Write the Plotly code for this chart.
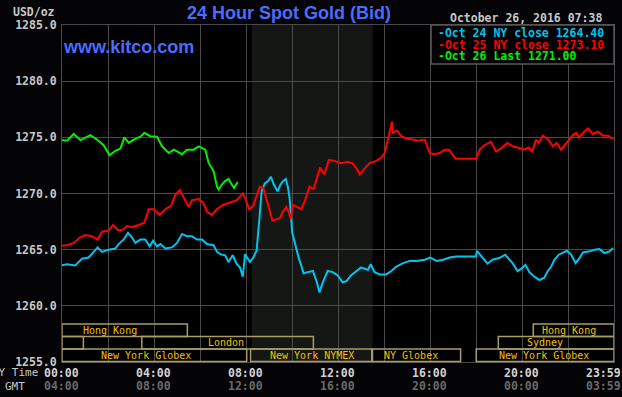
import plotly.graph_objects as go

# ---------------- data ----------------
oct24_t = [0.0, 0.22, 0.58, 0.87, 1.16, 1.38, 1.55, 1.74, 2.03, 2.32, 2.46, 2.68, 2.87, 3.04, 3.19, 3.41,
           3.62, 3.81, 3.96, 4.13, 4.28, 4.49, 4.78, 5.0, 5.22, 5.43, 5.65, 5.87, 6.09, 6.3, 6.59, 6.74,
           6.88, 7.09, 7.24, 7.42, 7.6, 7.74, 7.86, 7.96, 8.06, 8.17, 8.32, 8.46, 8.58, 8.68, 8.82, 8.96,
           9.08, 9.21, 9.37, 9.5, 9.61, 9.73, 9.83, 9.9, 10.01, 10.16, 10.3, 10.4, 10.5, 10.69, 10.91,
           11.08, 11.19, 11.34, 11.55, 11.77, 11.99, 12.2, 12.37, 12.56, 12.78, 12.99, 13.18, 13.3, 13.42,
           13.59, 13.81, 14.1, 14.32, 14.54, 14.83, 15.12, 15.41, 15.77, 16.01, 16.28, 16.57, 16.86, 17.14,
           18.0, 18.04, 18.28, 18.5, 18.72, 19.01, 19.27, 19.45, 19.59, 19.81, 20.0, 20.15, 20.32, 20.54,
           20.76, 20.97, 21.12, 21.27, 21.41, 21.6, 21.77, 21.95, 22.14, 22.33, 22.5, 22.65, 22.94, 23.16,
           23.37, 23.59, 23.81, 23.96]
oct24_v = [1263.6, 1263.7, 1263.6, 1264.2, 1264.3, 1264.8, 1265.2, 1264.8, 1265.0, 1265.1, 1265.5, 1265.9,
           1266.5, 1266.1, 1265.6, 1265.9, 1265.9, 1265.3, 1265.8, 1265.3, 1265.5, 1265.1, 1265.2, 1265.6,
           1266.4, 1266.2, 1266.2, 1265.9, 1265.9, 1265.5, 1265.4, 1264.8, 1264.6, 1264.5, 1263.9, 1264.5,
           1263.7, 1263.4, 1262.6, 1264.6, 1264.2, 1263.9, 1264.3, 1264.9, 1267.7, 1270.2, 1270.9, 1271.1,
           1271.5, 1270.8, 1270.2, 1270.8, 1271.1, 1271.3, 1270.5, 1269.5, 1266.5, 1265.2, 1264.2, 1263.6,
           1262.9, 1263.0, 1263.1, 1262.1, 1261.2, 1262.1, 1263.1, 1263.0, 1262.7, 1262.1, 1262.2, 1262.7,
           1263.1, 1263.4, 1263.3, 1263.2, 1263.7, 1263.0, 1262.8, 1262.8, 1263.1, 1263.5, 1263.8, 1264.0,
           1264.0, 1264.1, 1264.3, 1264.0, 1264.1, 1264.3, 1264.4, 1264.4, 1264.9, 1264.3, 1263.75, 1264.1,
           1264.25, 1264.55, 1264.1, 1263.8, 1263.1, 1263.35, 1263.65, 1263.0, 1262.6, 1262.3, 1262.5,
           1263.1, 1263.5, 1264.1, 1264.55, 1264.7, 1264.9, 1264.55, 1263.8, 1264.25, 1264.75, 1264.85,
           1265.0, 1265.05, 1264.7, 1264.85, 1265.15]

oct25_t = [0.0, 0.22, 0.51, 0.8, 1.01, 1.3, 1.55, 1.74, 2.03, 2.22, 2.46, 2.68, 2.83, 3.04, 3.33, 3.58,
           3.77, 3.99, 4.25, 4.49, 4.74, 4.93, 5.12, 5.32, 5.51, 5.65, 5.94, 6.13, 6.3, 6.52, 6.73, 7.02,
           7.31, 7.6, 7.86, 7.96, 8.14, 8.32, 8.46, 8.6, 8.75, 8.89, 9.04, 9.15, 9.32, 9.47, 9.61, 9.76,
           9.87, 9.94, 10.04, 10.22, 10.4, 10.55, 10.76, 10.94, 11.05, 11.22, 11.41, 11.6, 11.84, 12.13,
           12.42, 12.63, 12.78, 12.95, 13.14, 13.38, 13.67, 13.88, 14.03, 14.17, 14.35, 14.39, 14.57,
           14.75, 14.97, 15.26, 15.48, 15.77, 15.99, 16.2, 16.42, 16.64, 16.83, 16.93, 17.12, 18.0, 18.16,
           18.36, 18.65, 18.87, 19.08, 19.37, 19.59, 19.88, 20.1, 20.29, 20.44, 20.61, 20.73, 20.9, 21.12,
           21.34, 21.51, 21.7, 21.95, 22.21, 22.36, 22.47, 22.68, 22.87, 23.08, 23.3, 23.52, 23.74, 23.96]
oct25_v = [1265.35, 1265.4, 1265.6, 1266.1, 1266.3, 1266.2, 1265.9, 1266.6, 1266.7, 1267.2, 1266.7, 1266.8,
           1267.1, 1267.0, 1267.2, 1267.4, 1268.6, 1268.6, 1268.1, 1268.6, 1268.9, 1269.9, 1270.3, 1269.5,
           1268.8, 1269.4, 1269.5, 1269.2, 1268.4, 1268.1, 1268.6, 1269.0, 1269.2, 1269.4, 1270.0, 1269.6,
           1268.6, 1268.9, 1269.8, 1270.6, 1270.5, 1269.5, 1268.3, 1267.6, 1267.7, 1267.8, 1268.4, 1268.8,
           1268.3, 1267.7, 1269.0, 1268.8, 1268.6, 1269.3, 1270.6, 1270.4, 1271.2, 1272.3, 1271.7, 1273.0,
           1272.9, 1272.7, 1272.8, 1272.7, 1272.3, 1271.7, 1272.2, 1272.7, 1272.9, 1273.2, 1273.6, 1274.8,
           1276.4, 1275.4, 1275.6, 1275.1, 1274.9, 1274.8, 1274.7, 1274.8, 1273.6, 1273.5, 1273.6, 1273.9,
           1273.9, 1273.6, 1273.1, 1273.1, 1273.9, 1274.3, 1274.6, 1273.75, 1274.0, 1274.5, 1274.2, 1274.05,
           1273.9, 1274.1, 1273.7, 1274.8, 1274.5, 1275.15, 1274.85, 1274.2, 1274.5, 1273.9, 1274.5, 1275.2,
           1275.4, 1275.0, 1275.45, 1275.8, 1275.3, 1275.5, 1275.15, 1275.15, 1274.85]

oct26_t = [0.0, 0.22, 0.51, 0.8, 1.23, 1.52, 1.81, 2.07, 2.32, 2.54, 2.71, 2.9, 3.12, 3.41, 3.58, 3.84,
           4.13, 4.35, 4.64, 4.86, 5.22, 5.43, 5.72, 5.94, 6.23, 6.38, 6.59, 6.74, 6.81, 6.95, 7.09, 7.24,
           7.38, 7.48, 7.6, 7.65]
oct26_v = [1274.76, 1274.7, 1275.3, 1274.76, 1275.2, 1274.8, 1274.3, 1273.4, 1273.8, 1274.0, 1275.0, 1274.5,
           1274.8, 1275.06, 1275.4, 1275.1, 1275.06, 1274.2, 1273.6, 1273.9, 1273.5, 1273.9, 1273.9, 1274.2,
           1273.9, 1272.7, 1272.0, 1270.6, 1270.35, 1270.8, 1271.1, 1271.3, 1270.8, 1270.5, 1270.9, 1271.0]

series_names = ["Oct 24 NY close", "Oct 25 NY close", "Oct 26 Last"]
series_last = [1264.40, 1273.10, 1271.00]
series_colors = ["#00c4f0", "#ff0000", "#00f000"]

ny_tick_hours = [0, 4, 8, 12, 16, 20, 24]
ny_tick_labels = ["00:00", "04:00", "08:00", "12:00", "16:00", "20:00", "23:59"]
gmt_tick_labels = ["04:00", "08:00", "12:00", "16:00", "20:00", "00:00", "03:59"]

# market sessions: name, start hour, end hour, row (0 = top), label hour
session_names = ["Hong Kong", "", "London", "New York Globex", "New York NYMEX", "NY Globex",
                 "Hong Kong", "Sydney", "New York Globex"]
session_start = [0, 0, 3.47, 0, 8.2, 13.5, 20.49, 18.97, 18.01]
session_end = [5.45, 0.93, 10.93, 8.03, 13.47, 17.33, 24, 24, 24]
session_row = [0, 1, 1, 2, 2, 2, 0, 1, 2]
session_label_at = [2.09, 0, 7.13, 3.64, 10.87, 15.17, 22.04, 20.98, 20.96]

nymex_open = [8.25, 13.5]

# ---------------- figure ----------------
W, H = 622, 397
L, R, T, B = 62, 8, 25, 35
PW, PH = W - L - R, H - T - B


def px_x(p):
    return (p - L) / PW


def px_y(p):
    return (H - B - p) / PH


BG = "#040306"
GRID = "#4a4a4a"
MONO = "DejaVu Sans Mono"

fig = go.Figure()
for t, v, c in [(oct24_t, oct24_v, series_colors[0]),
                (oct25_t, oct25_v, series_colors[1]),
                (oct26_t, oct26_v, series_colors[2])]:
    fig.add_trace(go.Scatter(x=t, y=v, mode="lines", line=dict(color=c, width=2),
                             showlegend=False, hoverinfo="skip"))

shapes = []
# NYMEX shaded region
shapes.append(dict(type="rect", xref="x", yref="paper", x0=nymex_open[0], x1=nymex_open[1],
                   y0=0, y1=1, fillcolor="#151715", line=dict(width=0), layer="below"))

row_h = 12.5 / PH
for name, s, e, r in zip(session_names, session_start, session_end, session_row):
    y1 = px_y(324) - r * row_h
    y0 = y1 - row_h
    shapes.append(dict(type="rect", xref="x", yref="paper", x0=s, x1=e, y0=y0, y1=y1,
                       fillcolor="rgba(0,0,0,0)", line=dict(color="#a89c6a", width=1.5), layer="above"))

# legend box
shapes.append(dict(type="rect", xref="paper", yref="paper", x0=px_x(431), x1=1, y0=px_y(64), y1=1,
                   fillcolor="#000000", line=dict(color="#5a5a5a", width=1.5), layer="above"))

annotations = []
for name, r, lx in zip(session_names, session_row, session_label_at):
    if not name:
        continue
    yc = px_y(324) - r * row_h - row_h / 2
    annotations.append(dict(x=lx, y=yc, xref="x", yref="paper", text=name, showarrow=False,
                            xanchor="center", yanchor="middle", borderpad=0,
                            font=dict(family=MONO, size=10, color="#f2c200")))

for i, (nm, val, col) in enumerate(zip(series_names, series_last, series_colors)):
    annotations.append(dict(x=px_x(437), y=px_y(32.5 + 12 * i), xref="paper", yref="paper",
                            text="<b>-%s %.2f</b>" % (nm, val), showarrow=False,
                            xanchor="left", yanchor="middle", borderpad=0,
                            font=dict(family=MONO, size=11.5, color=col)))

for h, ny, gmt in zip(ny_tick_hours, ny_tick_labels, gmt_tick_labels):
    shift = -11 if h == 24 else -1
    annotations.append(dict(x=h, y=px_y(373), xref="x", yref="paper", text="<b>%s</b>" % ny,
                            showarrow=False, xanchor="center", yanchor="middle", xshift=shift,
                            borderpad=0, font=dict(family=MONO, size=11.5, color="#d2d2d2")))
    annotations.append(dict(x=h, y=px_y(386.5), xref="x", yref="paper", text="<b>%s</b>" % gmt,
                            showarrow=False, xanchor="center", yanchor="middle", xshift=shift,
                            borderpad=0, font=dict(family=MONO, size=11.5, color="#6a6a6a")))

annotations.append(dict(x=px_x(39), y=px_y(373), xref="paper", yref="paper", text="NY Time",
                        showarrow=False, xanchor="right", yanchor="middle", borderpad=0,
                        font=dict(family=MONO, size=11, color="#c8c8c8")))
annotations.append(dict(x=px_x(14.5), y=px_y(386.5), xref="paper", yref="paper", text="GMT",
                        showarrow=False, xanchor="center", yanchor="middle", borderpad=0,
                        font=dict(family=MONO, size=11, color="#c8c8c8")))
annotations.append(dict(x=px_x(56), y=px_y(12.5), xref="paper", yref="paper", text="<b>USD/oz</b>",
                        showarrow=False, xanchor="right", yanchor="middle", borderpad=0,
                        font=dict(family=MONO, size=11.5, color="#c8c8c8")))
annotations.append(dict(x=px_x(526), y=px_y(18.5), xref="paper", yref="paper",
                        text="<b>October 26, 2016 07:38</b>", showarrow=False,
                        xanchor="center", yanchor="middle", borderpad=0,
                        font=dict(family=MONO, size=11.5, color="#c8c8c8")))
annotations.append(dict(x=px_x(289), y=px_y(13.5), xref="paper", yref="paper",
                        text="<b>24 Hour Spot Gold (Bid)</b>", showarrow=False,
                        xanchor="center", yanchor="middle", borderpad=0,
                        font=dict(family="Liberation Sans", size=18, color="#4a6cff")))
annotations.append(dict(x=px_x(62), y=px_y(47), xref="paper", yref="paper",
                        text="<b>www.kitco.com</b>", showarrow=False,
                        xanchor="left", yanchor="middle", borderpad=0,
                        font=dict(family="Liberation Sans", size=18, color="#4a6cff")))

fig.update_layout(
    width=W, height=H,
    margin=dict(l=L, r=R, t=T, b=B, pad=0),
    paper_bgcolor=BG, plot_bgcolor="#000000",
    shapes=shapes, annotations=annotations,
    xaxis=dict(range=[0, 24], dtick=2, tick0=0, showgrid=True, gridcolor=GRID, gridwidth=1,
               showticklabels=False, zeroline=False, showline=True, linecolor=GRID, mirror=True,
               ticks=""),
    yaxis=dict(range=[1255, 1285], dtick=5, tick0=1255, showgrid=True, gridcolor=GRID, gridwidth=1,
               tickformat=".1f", zeroline=False, showline=True, linecolor=GRID, mirror=True,
               ticks="", ticklabelstandoff=2,
               tickfont=dict(family=MONO, size=11.5, color="#c8c8c8", weight="bold")),
)

fig.write_html(
    "out.html",
    config={"displayModeBar": False},
    post_script="document.body.style.margin='0';document.body.style.background='%s';" % BG,
)
